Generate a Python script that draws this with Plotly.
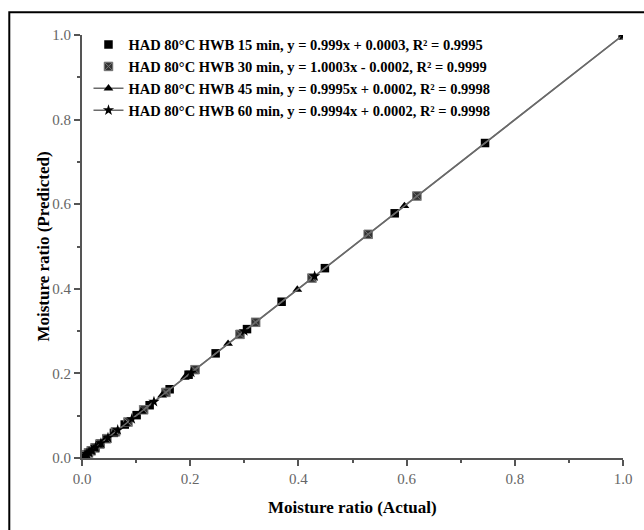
import plotly.graph_objects as go

# ---- data ----
labels = [
    "HAD 80°C HWB 15 min, y = 0.999x + 0.0003, R² = 0.9995",
    "HAD 80°C HWB 30 min, y = 1.0003x - 0.0002, R² = 0.9999",
    "HAD 80°C HWB 45 min, y = 0.9995x + 0.0002, R² = 0.9998",
    "HAD 80°C HWB 60 min, y = 0.9994x + 0.0002, R² = 0.9998",
]
actual_15 = [1.0, 0.745, 0.578, 0.449, 0.369, 0.305, 0.247, 0.197, 0.162, 0.125,
             0.101, 0.079, 0.059, 0.045, 0.034, 0.025, 0.018, 0.012, 0.008, 0.005]
pred_15 = [0.9993, 0.7446, 0.5785, 0.4488, 0.3694, 0.3047, 0.2474, 0.1969, 0.1625, 0.1248,
           0.1013, 0.0791, 0.0594, 0.0452, 0.0341, 0.0253, 0.0182, 0.0123, 0.0083, 0.0053]
actual_30 = [1.0, 0.619, 0.529, 0.425, 0.321, 0.292, 0.209, 0.155, 0.114, 0.085,
             0.062, 0.046, 0.033, 0.024, 0.017, 0.012, 0.008, 0.005]
pred_30 = [1.0001, 0.6193, 0.5288, 0.4253, 0.3208, 0.2923, 0.2088, 0.1551, 0.1139, 0.0851,
           0.0619, 0.0458, 0.0329, 0.0239, 0.0169, 0.0119, 0.0078, 0.0049]
actual_45 = [1.0, 0.596, 0.398, 0.270, 0.190, 0.148, 0.110, 0.080, 0.058, 0.042,
             0.030, 0.021, 0.015, 0.010, 0.006, 0.004]
pred_45 = [0.9997, 0.5959, 0.3982, 0.2703, 0.1901, 0.1481, 0.1102, 0.0801, 0.0582, 0.0421,
           0.0302, 0.0212, 0.0151, 0.0101, 0.0062, 0.0042]
actual_60 = [1.0, 0.430, 0.300, 0.202, 0.133, 0.092, 0.066, 0.048, 0.035, 0.025,
             0.018, 0.013, 0.009, 0.006, 0.004]
pred_60 = [0.9996, 0.4299, 0.3001, 0.2021, 0.1331, 0.0921, 0.0661, 0.0481, 0.0351, 0.0252,
           0.0182, 0.0131, 0.0092, 0.0062, 0.0042]

x_ticks = [0.0, 0.2, 0.4, 0.6, 0.8, 1.0]
x_ticklabels = ["0.0", "0.2", "0.4", "0.6", "0.8", "1.0"]
x_title = "Moisture ratio (Actual)"
y_title = "Moisture ratio (Predicted)"

SERIF = "Liberation Serif, Times New Roman, serif"
AX = "#555555"

fig = go.Figure()
fig.add_trace(go.Scatter(x=actual_15, y=pred_15, mode="markers", name="<b>" + labels[0] + "</b>",
                         marker=dict(symbol="square", size=8.5, color="black")))
fig.add_trace(go.Scatter(x=actual_30, y=pred_30, mode="markers", name="<b>" + labels[1] + "</b>",
                         marker=dict(symbol="square-x", size=8.5, color="#333333",
                                     line=dict(color="#777777", width=1))))
fig.add_trace(go.Scatter(x=actual_45, y=pred_45, mode="lines+markers", name="<b>" + labels[2] + "</b>",
                         line=dict(color="#6a6a6a", width=1.5),
                         marker=dict(symbol="triangle-up", size=8.5, color="black")))
fig.add_trace(go.Scatter(x=actual_60, y=pred_60, mode="lines+markers", name="<b>" + labels[3] + "</b>",
                         line=dict(color="#6a6a6a", width=1.5),
                         marker=dict(symbol="star", size=8.5, color="black")))

axis_common = dict(
    range=[0, 1.0], showgrid=False, zeroline=False, showline=True,
    linecolor=AX, linewidth=2, ticks="outside", ticklen=6, tickwidth=1.5,
    tickcolor=AX, tickfont=dict(family=SERIF, size=15, color="#666666"),
    tickvals=x_ticks, ticktext=x_ticklabels,
    minor=dict(ticks="outside", ticklen=3, tickwidth=1.5, tickcolor=AX, dtick=0.1, tick0=0),
)
fig.update_xaxes(**axis_common)
fig.update_yaxes(**axis_common)

fig.update_layout(
    width=644, height=530,
    margin=dict(l=82, r=19, t=35, b=72),
    paper_bgcolor="white", plot_bgcolor="white",
    showlegend=True,
    legend=dict(x=0.012, y=1.015, xanchor="left", yanchor="top",
                bgcolor="rgba(0,0,0,0)", borderwidth=0, tracegroupgap=0,
                font=dict(family=SERIF, size=14.5, color="black"),
                itemwidth=30),
    annotations=[
        dict(text="<b>" + x_title + "</b>", xref="paper", yref="paper",
             x=0.5, y=-0.118, xanchor="center", yanchor="middle", showarrow=False,
             font=dict(family=SERIF, size=17, color="black")),
        dict(text="<b>" + y_title + "</b>", xref="paper", yref="paper",
             x=-0.072, y=0.5, xanchor="center", yanchor="middle", showarrow=False,
             textangle=-90, font=dict(family=SERIF, size=17, color="black")),
    ],
    shapes=[
        dict(type="rect", xref="paper", yref="paper",
             x0=-0.1344, x1=1.1, y0=-0.3, y1=1.054,
             line=dict(color="black", width=2), fillcolor="rgba(0,0,0,0)", layer="below"),
    ],
)

fig.write_html("out.html")
